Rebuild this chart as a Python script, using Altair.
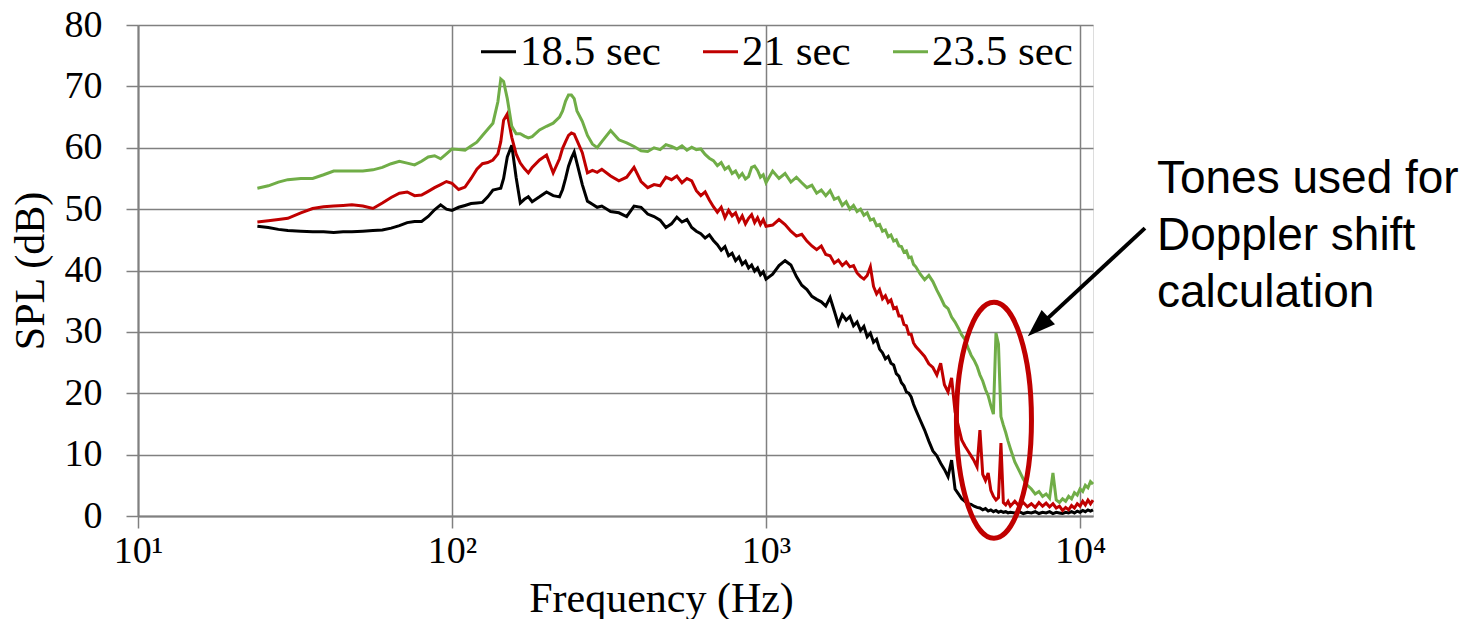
import altair as alt
import pandas as pd

# ---------------- data ----------------
freq_hz = [
    24, 26, 28, 30, 33, 36, 39, 42, 45, 48, 52, 56, 60, 64, 68, 72, 76, 80, 84, 88, 92, 96, 100,
    105, 110, 115, 120, 125, 130, 135, 140, 143, 146, 150, 155, 160, 165, 170, 175, 180, 190,
    200, 210, 220, 225, 230, 235, 240, 245, 250, 260, 270, 280, 290, 300,
    320, 340, 360, 380, 400, 420, 440, 460, 480, 500, 520, 540, 560, 580, 600, 620, 640, 660,
    680, 700, 720, 740, 760, 780, 800, 820, 840, 860, 880, 900, 920, 940, 960, 980, 1000,
    1050, 1100, 1150, 1200, 1250, 1300, 1350, 1400, 1450, 1500, 1550, 1600, 1650, 1700, 1750,
    1800, 1850, 1900, 1950, 2000, 2050, 2100, 2150, 2200, 2250, 2300, 2350, 2400, 2450, 2500,
    2550, 2600, 2650, 2700, 2750, 2800, 2850, 2900, 2950, 3000,
    3100, 3200, 3300, 3400, 3500, 3600, 3700, 3800, 3900, 4000, 4100, 4200, 4300, 4400, 4500,
    4600, 4700, 4800, 4900, 5000, 5100, 5200, 5300, 5400, 5500, 5600, 5700, 5800, 5900, 6000,
    6200, 6400, 6600, 6800, 7000, 7200, 7400, 7600, 7800, 8000, 8200, 8400, 8600, 8800, 9000,
    9200, 9400, 9600, 9800, 10000, 10200, 10400, 10600, 10800, 11000,
]

spl_18_5_sec = [
    47.2, 47.0, 46.7, 46.5, 46.4, 46.3, 46.3, 46.2, 46.3, 46.3, 46.4, 46.5, 46.6, 46.9, 47.3,
    47.8, 48.0, 48.0, 48.8, 49.9, 50.7, 50.0, 49.8,
    50.3, 50.6, 50.9, 51.0, 51.1, 52.0, 53.1, 53.3, 53.4, 55.0, 58.5, 60.4, 55.2, 51.0, 51.6,
    52.0, 51.2, 52.0, 52.8, 52.2, 52.0, 53.2, 55.0, 57.0, 58.3, 59.3, 57.5, 54.0, 51.3, 50.8,
    50.3, 50.5,
    49.6, 49.4, 48.8, 50.5, 50.3, 49.2, 48.8, 48.2, 47.0, 47.6, 48.7, 47.9, 48.3, 47.0, 46.4,
    46.0, 45.3, 45.8, 44.9, 44.2, 43.3, 43.9, 42.4, 42.8, 41.6, 42.2, 41.0, 41.5, 40.4, 40.9,
    39.9, 40.4, 39.3, 39.8, 38.6,
    39.4, 40.8, 41.6, 40.9, 39.0, 37.6, 36.9, 35.8, 35.3, 34.9, 34.2, 35.6, 33.4, 31.2, 32.8,
    31.9, 32.5, 31.0, 31.6, 30.2, 30.9, 29.2, 29.8, 28.3, 28.8, 27.2, 26.6, 25.6, 26.0, 24.9,
    24.6, 23.2, 22.8, 21.7, 21.2, 20.2, 20.0, 19.4, 18.2, 17.3,
    15.6, 14.0, 12.2, 10.6, 9.8, 8.6, 7.6, 6.4, 9.1, 4.4, 3.6, 2.8, 2.4, 2.0, 1.9,
    1.6, 1.4, 1.3, 1.0, 1.2, 0.8, 1.0, 0.7, 0.9, 0.6, 0.8, 0.6, 0.7, 0.5, 0.6,
    0.5, 0.7, 0.4, 0.6, 0.5, 0.7, 0.4, 0.6, 0.5, 0.7, 0.4, 0.6, 0.5, 0.4, 0.6,
    0.5, 0.7, 0.5, 0.8, 0.6, 0.9, 0.7, 1.0, 0.8, 1.0,
]

spl_21_sec = [
    47.9, 48.1, 48.3, 48.5, 49.4, 50.1, 50.4, 50.5, 50.6, 50.7, 50.5, 50.1, 51.0, 51.9, 52.6,
    52.8, 52.2, 52.3, 52.9, 53.5, 54.0, 54.5, 54.2,
    53.2, 53.6, 55.0, 56.5, 57.4, 57.6, 58.0, 59.0, 61.0, 64.5, 65.5, 61.7, 59.0, 57.5, 56.6,
    55.9, 56.8, 58.0, 58.8, 55.9, 58.2, 59.9, 61.0, 62.0, 62.4, 62.2, 61.2, 59.2, 55.9, 56.3,
    56.0, 56.5,
    55.4, 54.6, 55.2, 56.8, 54.5, 53.5, 54.0, 53.8, 55.2, 54.8, 55.4, 54.3, 55.0, 54.6, 53.0,
    52.2, 52.8, 51.5, 50.4, 49.5, 50.3, 48.6, 49.8, 48.9, 49.4, 48.0, 48.9, 47.6, 48.5, 49.1,
    47.8, 48.6, 47.5, 48.3, 47.2,
    47.4, 48.3, 47.5, 46.4, 45.6, 45.9, 44.8, 44.0, 43.4, 44.0, 42.6, 42.4, 41.2, 41.7, 40.8,
    41.4, 40.6, 40.8, 39.6, 39.0, 38.6, 39.2, 40.6, 37.4, 36.2, 36.9, 35.4, 35.9, 34.8, 35.2,
    33.8, 34.0, 32.6, 32.6, 31.2, 31.0, 29.6, 29.6, 28.2, 27.6,
    26.8, 26.0, 24.8, 24.2, 23.0, 24.9, 21.4, 20.2, 22.5, 17.0, 14.6, 12.4, 11.4, 10.6, 9.8,
    9.0, 8.0, 14.0, 6.8, 5.8, 7.0, 4.2, 3.2, 2.6, 3.0, 11.9, 2.2, 1.8, 2.4, 1.6,
    2.4, 1.6, 2.2, 1.5, 2.0, 1.4, 2.2, 1.6, 2.1, 1.5, 2.0, 1.3, 1.6, 0.9, 1.4,
    1.0, 1.7, 1.3, 2.0, 1.6, 2.4, 1.8, 2.6, 2.0, 2.6,
]

spl_23_5_sec = [
    53.4, 53.8, 54.4, 54.8, 55.0, 55.0, 55.6, 56.2, 56.2, 56.2, 56.2, 56.4, 56.8, 57.4, 57.8,
    57.5, 57.2, 57.8, 58.5, 58.7, 58.2, 59.0, 59.8,
    59.7, 59.6, 60.3, 60.9, 62.0, 63.0, 64.0, 67.5, 71.2, 70.8, 68.0, 63.5, 62.3, 62.3, 61.9,
    61.6, 61.8, 62.9, 63.5, 64.0, 65.0, 66.0, 67.6, 68.6, 68.6, 68.0, 66.0, 64.3, 62.0, 60.6,
    60.0, 61.0,
    62.8, 61.3, 60.8, 60.2, 59.5, 59.4, 60.0, 59.7, 60.5, 60.2, 59.8, 60.3, 59.6, 60.1, 59.7,
    59.8, 58.9, 58.3, 57.9, 57.1, 57.6, 56.5, 56.9, 55.8, 56.2, 55.2, 55.8, 54.9, 55.3, 56.8,
    57.0, 56.3, 55.2, 55.6, 54.3,
    56.2, 55.0, 55.8, 54.4, 55.2, 54.3, 53.5, 53.9, 52.6, 53.1, 52.2, 53.0, 51.6, 51.9, 50.6,
    51.2, 50.0, 50.6, 49.6, 50.0, 49.0, 49.4, 48.2, 48.4, 47.3, 47.5, 46.4, 46.6, 45.5, 45.8,
    44.8, 45.0, 44.0, 43.9, 43.0, 43.2, 42.1, 42.2, 41.0, 40.6,
    39.4, 38.5, 39.2, 38.2, 36.8, 35.6, 34.3, 33.8, 32.4, 31.6, 30.6, 29.5, 28.8, 27.4, 26.2,
    25.4, 24.4, 23.0, 22.0, 20.6, 19.6, 18.0, 16.6, 29.8, 28.0, 16.2, 14.8, 13.6, 12.2, 11.0,
    8.8, 7.4, 6.0, 5.0, 4.4, 3.6, 4.0, 3.2, 3.6, 2.9, 7.0, 2.6, 2.2, 2.8, 2.4,
    3.2, 2.8, 3.8, 3.4, 4.4, 4.0, 5.0, 4.6, 5.6, 5.2,
]

series_names = ["18.5 sec", "21 sec", "23.5 sec"]
series_colors = ["#000000", "#C00000", "#70AD47"]
x_tick_values = [10, 100, 1000, 10000]
y_tick_values = [0, 10, 20, 30, 40, 50, 60, 70, 80]

note_text = ["Tones used for\nDoppler shift\ncalculation"]

# ---------------- tables ----------------
rows = []
for name, vals in zip(series_names, [spl_18_5_sec, spl_21_sec, spl_23_5_sec]):
    assert len(vals) == len(freq_hz), (name, len(vals), len(freq_hz))
    for f, v in zip(freq_hz, vals):
        rows.append({"freq": f, "spl": v, "series": name})
df = pd.DataFrame(rows)

GRID = "#808080"
SERIF = "Liberation Serif"

x_scale = alt.Scale(type="log", domain=[10, 11000], nice=False)
y_scale = alt.Scale(domain=[0, 80], nice=False, zero=False)

x_axis = alt.Axis(
    values=x_tick_values,
    labelExpr="datum.value < 50 ? '10\u00b9' : datum.value < 500 ? '10\u00b2' : datum.value < 5000 ? '10\u00b3' : '10\u2074'",
    title="Frequency (Hz)",
    titleX=523,
    grid=True,
    gridColor=GRID,
    gridWidth=1.5,
    tickSize=12,
    tickColor=GRID,
    tickWidth=1.5,
    domainColor=GRID,
    domainWidth=2,
    labelFont=SERIF,
    labelFontSize=38,
    labelColor="black",
    labelPadding=4,
    labelFlush=False,
    labelOverlap=False,
    titleFont=SERIF,
    titleFontSize=42,
    titleFontWeight="normal",
    titleColor="black",
    titlePadding=8,
)
y_axis = alt.Axis(
    values=y_tick_values,
    title="SPL (dB)",
    grid=True,
    gridColor=GRID,
    gridWidth=1.5,
    tickSize=12,
    tickColor=GRID,
    tickWidth=1.5,
    domainColor=GRID,
    domainWidth=2,
    labelFont=SERIF,
    labelFontSize=38,
    labelColor="black",
    labelPadding=24,
    titleFont=SERIF,
    titleFontSize=42,
    titleFontWeight="normal",
    titleColor="black",
    titlePadding=12,
)

X = alt.X("freq:Q", scale=x_scale, axis=x_axis)
Y = alt.Y("spl:Q", scale=y_scale, axis=y_axis)

lines = alt.Chart(df).mark_line(strokeWidth=3).encode(
    x=X,
    y=Y,
    color=alt.Color(
        "series:N",
        scale=alt.Scale(domain=series_names, range=series_colors),
        legend=alt.Legend(
            orient="none",
            legendX=339,
            legendY=5,
            direction="horizontal",
            title=None,
            symbolType="stroke",
            symbolSize=1225,
            symbolStrokeWidth=3,
            labelFont=SERIF,
            labelFontSize=43,
            labelColor="black",
            labelOffset=0,
            columnPadding=36,
            labelLimit=0,
            padding=0,
        ),
    ),
)

# ---------------- annotation ----------------
ellipse_path = (
    "M 0 -1 C 0.1756 -1 0.318 -0.5523 0.318 0 "
    "C 0.318 0.5523 0.1756 1 0 1 "
    "C -0.1756 1 -0.318 0.5523 -0.318 0 "
    "C -0.318 -0.5523 -0.1756 -1 0 -1 Z"
)
ellipse_df = pd.DataFrame({"freq": [5320], "spl": [15.6]})
ellipse = alt.Chart(ellipse_df).mark_point(
    shape=ellipse_path, size=55696, filled=False, stroke="#C00000", strokeWidth=5, opacity=1
).encode(x=X, y=Y)

arrow_df = pd.DataFrame({"freq": [16100], "spl": [46.9], "freq2": [7404], "spl2": [30.9]})
arrow_line = alt.Chart(arrow_df).mark_rule(strokeWidth=4, color="black").encode(
    x=X, y=Y, x2="freq2:Q", y2="spl2:Q",
)

head_df = pd.DataFrame({"freq": [6820], "spl": [29.3]})
arrow_head = alt.Chart(head_df).mark_point(
    shape="M 0 0 L 0.7 2 L -0.7 2 Z", size=784, angle=227, filled=True,
    color="black", opacity=1
).encode(x=X, y=Y)

note_df = pd.DataFrame({"freq": [17580], "spl": [52.6], "text": note_text})
note = alt.Chart(note_df).mark_text(
    align="left", baseline="alphabetic", font="Liberation Sans", fontSize=46,
    lineHeight=57, lineBreak="\n", color="black"
).encode(x=X, y=Y, text="text:N")

chart = alt.layer(lines, ellipse, arrow_line, arrow_head, note).properties(
    width=955,
    height=491,
    autosize=alt.AutoSizeParams(type="none"),
    padding={"left": 138, "top": 25, "right": 385, "bottom": 103},
).configure_view(stroke=GRID, strokeWidth=1.5).configure(background="white")

chart.save("out.html", embed_options={"renderer": "svg", "actions": False})
